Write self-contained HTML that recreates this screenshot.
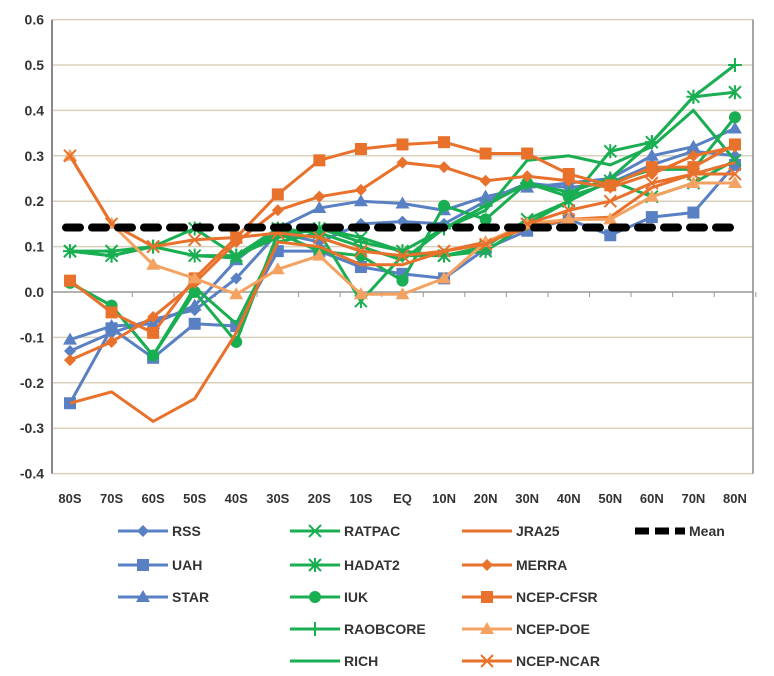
<!DOCTYPE html>
<html><head><meta charset="utf-8"><style>body{margin:0;background:#fff}svg{display:block}text{font-family:"Liberation Sans",sans-serif;font-weight:bold;fill:#333}</style></head><body>
<svg width="774" height="676" xmlns="http://www.w3.org/2000/svg" id="s"></svg>
<script>
const s=document.getElementById('s');let h='';
const Y=v=>292-v*454, X=i=>70+i*41.56;
for(let k=-4;k<=6;k++){const y=Y(k/10);h+=`<line x1="52" x2="753" y1="${y}" y2="${y}" stroke="${k==0?'#999':'#d8d0bc'}" stroke-width="1.5"/>`;h+=`<text x="44" y="${y+5}" text-anchor="end" font-size="14">${(k/10).toFixed(1)}</text>`;}
h+=`<line x1="52" x2="52" y1="${Y(0.6)}" y2="${Y(-0.4)}" stroke="#888" stroke-width="2"/><line x1="753" x2="753" y1="${Y(0.6)}" y2="${Y(-0.4)}" stroke="#888" stroke-width="1.5"/>`;
const cats=['80S','70S','60S','50S','40S','30S','20S','10S','EQ','10N','20N','30N','40N','50N','60N','70N','80N'];
cats.forEach((c,i)=>{h+=`<line x1="${X(i)+20.8}" x2="${X(i)+20.8}" y1="292" y2="297" stroke="#999"/>`;h+=`<text x="${X(i)}" y="503" text-anchor="middle" font-size="13">${c}</text>`});
const B='#5a80c4',G='#1aae52',O='#e8712c',L='#f4a261';
const S=[
['RSS',B,'d',[-0.13,-0.09,-0.06,-0.04,0.03,0.13,0.11,0.15,0.155,0.15,0.2,0.24,0.23,0.24,0.28,0.31,0.3]],
['UAH',B,'s',[-0.245,-0.08,-0.145,-0.07,-0.075,0.09,0.09,0.055,0.04,0.03,0.095,0.135,0.16,0.125,0.165,0.175,0.28]],
['STAR',B,'t',[-0.105,-0.075,-0.07,-0.03,0.07,0.14,0.185,0.2,0.195,0.18,0.21,0.23,0.24,0.25,0.3,0.32,0.36]],
['RATPAC',G,'x',[0.09,0.09,0.1,0.08,0.075,0.13,0.14,0.12,0.09,0.08,0.1,0.16,0.2,0.245,0.21,0.24,0.29]],
['HADAT2',G,'a',[0.09,0.08,0.1,0.14,0.08,0.14,0.13,-0.02,0.08,0.08,0.09,0.15,0.2,0.31,0.33,0.43,0.44]],
['IUK',G,'c',[0.02,-0.03,-0.14,0.0,-0.11,0.13,0.09,0.08,0.025,0.19,0.16,0.24,0.21,0.24,0.27,0.27,0.385]],
['RAOBCORE',G,'p',[0.09,0.08,0.1,0.08,0.08,0.12,0.14,0.11,0.09,0.14,0.19,0.24,0.22,0.25,0.33,0.43,0.5]],
['RICH',G,'n',[0.02,-0.03,-0.14,0.01,-0.07,0.11,0.13,0.1,0.07,0.14,0.18,0.29,0.3,0.28,0.32,0.4,0.29]],
['JRA25',O,'n',[-0.245,-0.22,-0.285,-0.235,-0.09,0.11,0.1,0.06,0.06,0.09,0.11,0.14,0.16,0.165,0.23,0.26,0.285]],
['MERRA',O,'d',[-0.15,-0.11,-0.055,0.02,0.11,0.18,0.21,0.225,0.285,0.275,0.245,0.255,0.245,0.23,0.26,0.3,0.32]],
['NCEP-CFSR',O,'s',[0.025,-0.045,-0.09,0.03,0.12,0.215,0.29,0.315,0.325,0.33,0.305,0.305,0.26,0.235,0.275,0.275,0.325]],
['NCEP-DOE',L,'t',[0.3,0.15,0.06,0.03,-0.005,0.05,0.08,-0.005,-0.005,0.03,0.11,0.15,0.16,0.16,0.21,0.24,0.24]],
['NCEP-NCAR',O,'x',[0.3,0.15,0.1,0.115,0.12,0.13,0.12,0.09,0.08,0.09,0.105,0.15,0.18,0.2,0.24,0.26,0.26]]];
function mk(t,x,y,c){switch(t){
case'd':return`<polygon points="${x},${y-6} ${x+6},${y} ${x},${y+6} ${x-6},${y}" fill="${c}"/>`;
case's':return`<rect x="${x-6}" y="${y-6}" width="12" height="12" fill="${c}"/>`;
case't':return`<polygon points="${x},${y-7} ${x+7},${y+5} ${x-7},${y+5}" fill="${c}"/>`;
case'c':return`<circle cx="${x}" cy="${y}" r="6" fill="${c}"/>`;
case'x':return`<path d="M${x-6} ${y-6}L${x+6} ${y+6}M${x+6} ${y-6}L${x-6} ${y+6}" stroke="${c}" stroke-width="2"/>`;
case'a':return`<path d="M${x-6} ${y-6}L${x+6} ${y+6}M${x+6} ${y-6}L${x-6} ${y+6}M${x} ${y-7}V${y+7}" stroke="${c}" stroke-width="2"/>`;
case'p':return`<path d="M${x-7} ${y}H${x+7}M${x} ${y-7}V${y+7}" stroke="${c}" stroke-width="2"/>`;
default:return'';}}
S.forEach(([n,c,m,d])=>{h+=`<polyline fill="none" stroke="${c}" stroke-width="3" points="${d.map((v,i)=>X(i)+','+Y(v)).join(' ')}"/>`;d.forEach((v,i)=>h+=mk(m,X(i),Y(v),c));});
h+=`<line x1="66" x2="742" y1="${Y(0.142)}" y2="${Y(0.142)}" stroke="#000" stroke-width="8" stroke-linecap="round" stroke-dasharray="14,12"/>`;
const cols=[118,290,462,635],rows=[531,565,597,629,661];
const leg=[[0,0,0],[1,0,1],[2,0,2],[3,1,0],[4,1,1],[5,1,2],[6,1,3],[7,1,4],[8,2,0],[9,2,1],[10,2,2],[11,2,3],[12,2,4]];
leg.forEach(([k,c,r])=>{const [n,col,m]=S[k];const x=cols[c],y=rows[r];h+=`<line x1="${x}" x2="${x+50}" y1="${y}" y2="${y}" stroke="${col}" stroke-width="3"/>`+mk(m,x+25,y,col)+`<text x="${x+54}" y="${y+5}" font-size="14">${n}</text>`;});
h+=`<line x1="635" x2="685" y1="531" y2="531" stroke="#000" stroke-width="7" stroke-dasharray="14,6"/><text x="689" y="536" font-size="14">Mean</text>`;
s.innerHTML=h;
</script></body></html>
